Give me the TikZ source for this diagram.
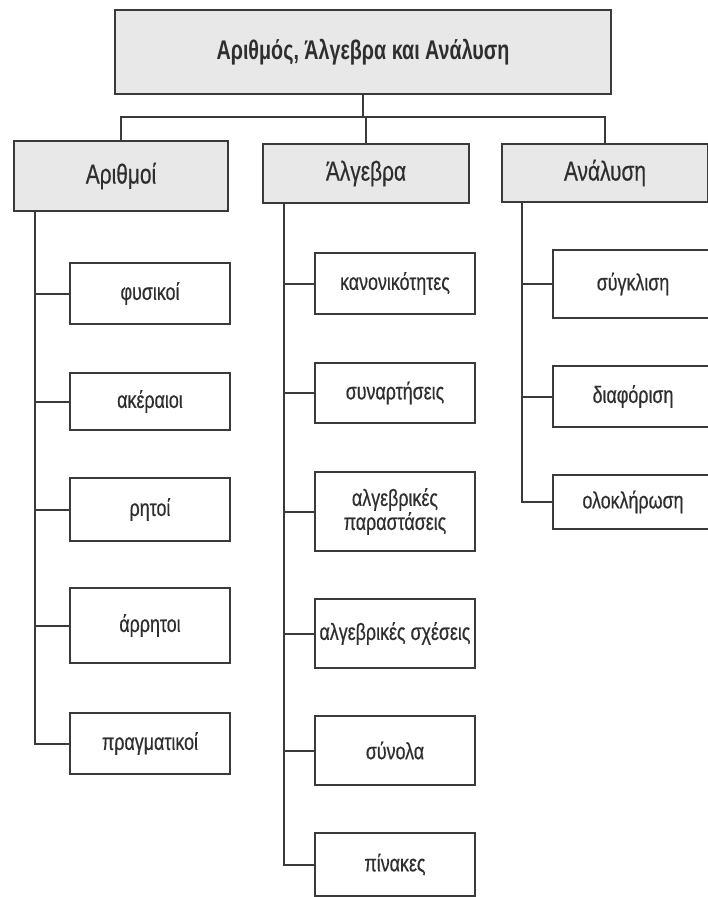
\documentclass[tikz,border=0pt]{standalone}
\usepackage{fontspec}
\newfontfamily\nf[FakeStretch=0.76,FakeBold=0.4]{Liberation Sans}
\newfontfamily\tf[FakeStretch=0.73]{Liberation Sans}
\definecolor{linec}{HTML}{3A3A3A}
\definecolor{boxfill}{HTML}{E8E8E8}
\definecolor{txt}{HTML}{2E2E2E}
\tikzset{
  box/.style={draw=linec, line width=2pt, inner sep=0pt, outer sep=0pt, align=center, text=txt},
  titlebox/.style={box, fill=boxfill, font=\tf\bfseries\fontsize{27}{30}\selectfont},
  headbox/.style={box, fill=boxfill, font=\nf\fontsize{27.5}{30}\selectfont},
  leaf/.style={box, fill=white, minimum width=160pt, font=\nf\fontsize{23.5}{25}\selectfont},
  conn/.style={draw=linec, line width=2pt}
}
\begin{document}
\begin{tikzpicture}[x=1pt,y=-1pt]
\clip (0,0) rectangle (708,897);
\fill[white] (0,0) rectangle (708,897);
% top
\node[titlebox, minimum width=496pt, minimum height=84pt] (top) at (363,52) {Αριθμός, Άλγεβρα και Ανάλυση};
% level 2
\node[headbox, minimum width=214pt, minimum height=70pt] (arith) at (121,176) {Αριθμοί};
\node[headbox, minimum width=206pt, minimum height=59pt] (alg) at (366,173.5) {Άλγεβρα};
\node[headbox, minimum width=206pt, minimum height=58pt] (ana) at (605,173) {Ανάλυση};
% column 1
\node[leaf, minimum height=61pt] (a1) at (150,293.5) {φυσικοί};
\node[leaf, minimum height=57pt] (a2) at (150,401.5) {ακέραιοι};
\node[leaf, minimum height=63pt] (a3) at (150,509.5) {ρητοί};
\node[leaf, minimum height=75pt] (a4) at (150,625.5) {άρρητοι};
\node[leaf, minimum height=61pt] (a5) at (150,743.5) {πραγματικοί};
% column 2
\node[leaf, minimum height=61pt] (b1) at (395,283.5) {κανονικότητες};
\node[leaf, minimum height=60pt] (b2) at (395,393) {συναρτήσεις};
\node[leaf, minimum height=79pt] (b3) at (395,511.5) {αλγεβρικές\\[-1pt]παραστάσεις};
\node[leaf, minimum height=69pt] (b4) at (395,633.5) {αλγεβρικές σχέσεις};
\node[leaf, minimum height=69pt] (b5) at (395,750.5) {σύνολα};
\node[leaf, minimum height=63pt] (b6) at (395,864.5) {πίνακες};
% column 3
\node[leaf, minimum height=68pt] (c1) at (633,284) {σύγκλιση};
\node[leaf, minimum height=61pt] (c2) at (633,396.5) {διαφόριση};
\node[leaf, minimum height=54pt] (c3) at (633,502) {ολοκλήρωση};
% connectors level 1
\coordinate (j) at (363,117);
\draw[conn] (top.south) -- (j);
\draw[conn] (j) -| (arith.north);
\draw[conn] (j) -| (ana.north);
\draw[conn] (j -| alg.north) -- (alg.north);
% trunks
\coordinate (t1) at (35,211);
\coordinate (t2) at (284,203);
\coordinate (t3) at (522,202);
\draw[conn] (t1) |- (a5.west);
\foreach \n in {a1,a2,a3,a4} \draw[conn] (\n.west) -- (\n.west -| t1);
\draw[conn] (t2) |- (b6.west);
\foreach \n in {b1,b2,b3,b4,b5} \draw[conn] (\n.west) -- (\n.west -| t2);
\draw[conn] (t3) |- (c3.west);
\foreach \n in {c1,c2} \draw[conn] (\n.west) -- (\n.west -| t3);
\end{tikzpicture}
\end{document}
